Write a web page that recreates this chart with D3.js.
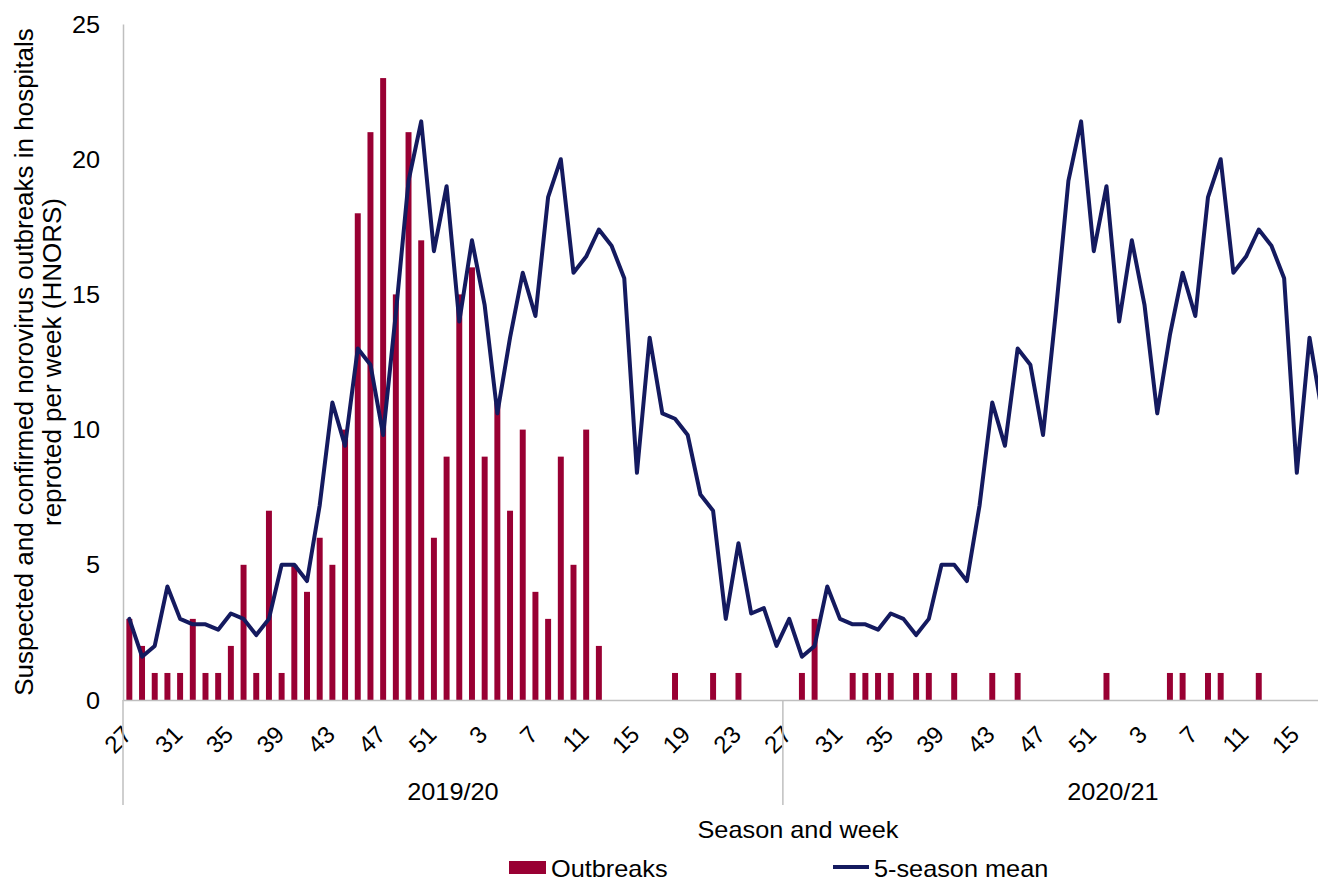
<!DOCTYPE html>
<html>
<head>
<meta charset="utf-8">
<script src="https://cdn.jsdelivr.net/npm/d3@7"></script>
<style>
  html, body { margin: 0; padding: 0; background: #fff; }
  svg { display: block; font-family: "Liberation Sans", Arial, sans-serif; }
</style>
</head>
<body>
<svg id="chart" width="1318" height="881"></svg>
<script>
// ---------------- DATA ----------------
const seasons = ["2019/20", "2020/21"];
const weekLabels = [27,28,29,30,31,32,33,34,35,36,37,38,39,40,41,42,43,44,45,46,47,48,49,50,51,52,
                    1,2,3,4,5,6,7,8,9,10,11,12,13,14,15,16,17,18,19,20,21,22,23,24,25,26];
// Outbreaks per week, season 2019/20 (weeks 27..26)
const outbreaks2019 = [3,2,1,1,1,3,1,1,2,5,1,7,1,5,4,6,5,10,18,21,23,15,21,17,6,9,
                       15,16,9,11,7,10,4,3,9,5,10,2,0,0,0,0,0,1,0,0,1,0,1,0,0,0];
// Outbreaks per week, season 2020/21 (weeks 27..16, visible part)
const outbreaks2020 = [0,1,3,0,0,1,1,1,1,0,1,1,0,1,0,0,1,0,1,0,0,0,0,0,0,1,
                       0,0,0,0,1,1,0,1,1,0,0,1,0,0,0,0];
// 5-season mean, season 2019/20
const mean2019 = [3.0,1.6,2.0,4.2,3.0,2.8,2.8,2.6,3.2,3.0,2.4,3.0,5.0,5.0,4.4,7.2,11.0,9.4,13.0,12.4,9.8,14.3,19.2,21.4,16.6,19.0,
                  14.0,17.0,14.6,10.6,13.4,15.8,14.2,18.6,20.0,15.8,16.4,17.4,16.8,15.6,8.4,13.4,10.6,10.4,9.8,7.6,7.0,3.0,5.8,3.2,3.4,2.0];
// 5-season mean, season 2020/21 (weeks 27..17, visible part)
const mean2020 = [3.0,1.6,2.0,4.2,3.0,2.8,2.8,2.6,3.2,3.0,2.4,3.0,5.0,5.0,4.4,7.2,11.0,9.4,13.0,12.4,9.8,14.3,19.2,21.4,16.6,19.0,
                  14.0,17.0,14.6,10.6,13.5,15.8,14.2,18.6,20.0,15.8,16.4,17.4,16.8,15.6,8.4,13.4,10.6];
const yTicks = [0,5,10,15,20,25];
const seriesNames = ["Outbreaks", "5-season mean"];
const xTitle = "Season and week";
const yTitleLines = ["Suspected and confirmed norovirus outbreaks in hospitals", "reproted per week (HNORS)"];

// ---------------- LAYOUT ----------------
const W = 1318, H = 881;
const plotLeft = 123, plotTop = 24, plotBottom = 700;
const step = 12.69;
const barColor = "#990033";
const lineColor = "#141a5f";
const axisColor = "#bfbfbf";

const categories = [];
seasons.forEach(s => weekLabels.forEach(w => categories.push({season: s, week: w, key: s + "-" + w})));
const keys = categories.map(c => c.key);

const x = d3.scaleBand().domain(keys)
  .range([plotLeft, plotLeft + step * keys.length])
  .paddingInner(0.53).paddingOuter(0.265);
const y = d3.scaleLinear().domain([0, 25]).range([plotBottom, plotTop]);
const cx = k => x(k) + x.bandwidth() / 2;

const svg = d3.select("#chart");

const barData = [];
outbreaks2019.forEach((v, i) => barData.push({key: seasons[0] + "-" + weekLabels[i], v}));
outbreaks2020.forEach((v, i) => barData.push({key: seasons[1] + "-" + weekLabels[i], v}));
const lineData = [];
mean2019.forEach((v, i) => lineData.push({key: seasons[0] + "-" + weekLabels[i], v}));
mean2020.forEach((v, i) => lineData.push({key: seasons[1] + "-" + weekLabels[i], v}));

// bars
svg.append("g").selectAll("rect").data(barData.filter(d => d.v > 0)).join("rect")
  .attr("x", d => x(d.key))
  .attr("y", d => y(d.v))
  .attr("width", x.bandwidth())
  .attr("height", d => y(0) - y(d.v))
  .attr("fill", barColor);

// x axis
const visibleTicks = keys.filter((k, i) => i % 4 === 0 && cx(k) < W);
const xAxis = d3.axisBottom(x).tickValues(visibleTicks).tickSize(0)
  .tickFormat(k => k.split("-")[1]);
const gx = svg.append("g").attr("transform", `translate(0,${plotBottom})`).call(xAxis);
gx.select(".domain").attr("stroke", axisColor).attr("stroke-width", 1.5);
gx.selectAll(".tick text")
  .attr("y", null).attr("dy", "0.35em")
  .attr("font-size", 24).attr("fill", "#000")
  .attr("font-family", "Liberation Sans, Arial, sans-serif")
  .attr("text-anchor", "end")
  .attr("transform", "translate(-2,30) rotate(-45)");

// y axis
const yAxis = d3.axisLeft(y).tickValues(yTicks).tickSize(0);
const gy = svg.append("g").attr("transform", `translate(${plotLeft},0)`).call(yAxis);
gy.select(".domain").attr("stroke", axisColor).attr("stroke-width", 1.5);
gy.selectAll(".tick text")
  .attr("x", null).attr("dy", "0.35em")
  .attr("font-size", 23).attr("fill", "#000")
  .attr("font-family", "Liberation Sans, Arial, sans-serif")
  .attr("text-anchor", "end")
  .attr("transform", "translate(-23,0) scale(1.1,1)");

// season separators
const sepX = [plotLeft, x(seasons[1] + "-27") - x.step() * x.paddingInner() / 2];
svg.append("g").selectAll("line").data(sepX).join("line")
  .attr("x1", d => d).attr("x2", d => d)
  .attr("y1", plotBottom).attr("y2", 805)
  .attr("stroke", axisColor).attr("stroke-width", 1.5);

// season labels
seasons.forEach(s => {
  const first = x(s + "-27"), last = x(s + "-26") + x.bandwidth();
  const mid = (first + last) / 2;
  svg.append("text")
    .attr("transform", `translate(${mid},800) scale(1.1,1)`)
    .attr("text-anchor", "middle").attr("font-size", 23).text(s);
});

// line
const line = d3.line().x(d => cx(d.key)).y(d => y(d.v));
svg.append("path").datum(lineData)
  .attr("d", line)
  .attr("fill", "none").attr("stroke", lineColor)
  .attr("stroke-width", 4).attr("stroke-linejoin", "round").attr("stroke-linecap", "round");

// x title
svg.append("text")
  .attr("transform", "translate(798,838) scale(1.1,1)")
  .attr("text-anchor", "middle").attr("font-size", 23).text(xTitle);

// y title
const yt = svg.append("text")
  .attr("transform", "translate(33,362) rotate(-90)")
  .attr("text-anchor", "middle").attr("font-size", 26);
yTitleLines.forEach((t, i) => {
  yt.append("tspan").attr("x", 0).attr("y", i * 28).text(t);
});

// legend
const lg = svg.append("g");
lg.append("rect").attr("x", 509).attr("y", 861).attr("width", 37).attr("height", 13).attr("fill", barColor);
lg.append("text").attr("transform", "translate(551,877) scale(1.1,1)").attr("font-size", 23).text(seriesNames[0]);
lg.append("line").attr("x1", 833).attr("x2", 869).attr("y1", 867).attr("y2", 867)
  .attr("stroke", lineColor).attr("stroke-width", 4);
lg.append("text").attr("transform", "translate(874,877) scale(1.1,1)").attr("font-size", 23).text(seriesNames[1]);
</script>
</body>
</html>
